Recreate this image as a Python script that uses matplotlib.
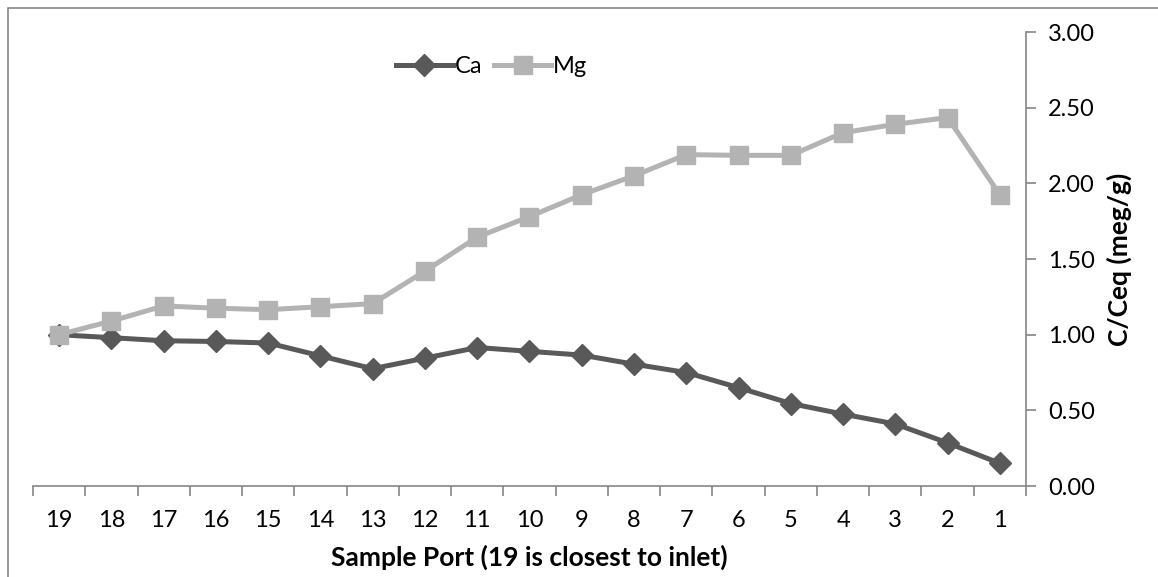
import numpy as np
import matplotlib.pyplot as plt

# Данные
ports = [19, 18, 17, 16, 15, 14, 13, 12, 11, 10, 9, 8, 7, 6, 5, 4, 3, 2, 1]
ca = [1.00, 0.98, 0.96, 0.955, 0.945, 0.86, 0.775, 0.845, 0.915, 0.89,
      0.865, 0.805, 0.75, 0.65, 0.545, 0.475, 0.41, 0.285, 0.15]
mg = [1.00, 1.09, 1.19, 1.175, 1.165, 1.185, 1.205, 1.42, 1.645, 1.78,
      1.925, 2.05, 2.19, 2.185, 2.185, 2.335, 2.39, 2.435, 1.925]
yticks = [0.0, 0.5, 1.0, 1.5, 2.0, 2.5, 3.0]

plt.rcParams['font.family'] = ['Lato', 'DejaVu Sans']
axis_col = '#868686'

fig = plt.figure(figsize=(11.58, 5.77), dpi=100)
ax = fig.add_axes([0.0285, 0.1577, 0.8575, 0.7868])

x = np.arange(len(ports))
ax.plot(x, ca, color='#595959', lw=3.6, marker='D', ms=11, label='Ca', zorder=3)
ax.plot(x, mg, color='#b3b3b3', lw=3.6, marker='s', ms=13.5, label='Mg', zorder=4)

ax.set_xlim(-0.5, len(ports) - 0.5)
ax.set_ylim(0, 3)
ax.set_xticks(x)
ax.set_xticklabels([str(p) for p in ports], fontsize=17)
ax.set_xticks(np.arange(-0.5, len(ports)), minor=True)
ax.tick_params(axis='x', which='major', length=0, pad=17)
ax.tick_params(axis='x', which='minor', length=7, color=axis_col, width=1.2)

ax.yaxis.tick_right()
ax.yaxis.set_label_position('right')
ax.set_yticks(yticks)
ax.set_yticklabels([f'{v:.2f}' for v in yticks], fontsize=17)
ax.tick_params(axis='y', length=7, color=axis_col, width=1.2, pad=9)

for s in ['top', 'left']:
    ax.spines[s].set_visible(False)
for s in ['bottom', 'right']:
    ax.spines[s].set_color(axis_col)
    ax.spines[s].set_linewidth(1.2)

ax.set_xlabel('Sample Port (19 is closest to inlet)', fontsize=19, fontweight='bold', labelpad=10)
ax.set_ylabel('C/Ceq (meg/g)', fontsize=19, fontweight='bold', labelpad=8)

ax.legend(loc='center', bbox_to_anchor=(0.462, 0.923), ncol=2, frameon=False,
          fontsize=17, handlelength=2.4, handletextpad=0.1, columnspacing=0.5)

# рамка вокруг графика
fig.patches.append(plt.Rectangle((0.007, -0.05), 1.1, 1.036, transform=fig.transFigure,
                                 fill=False, edgecolor=axis_col, lw=1.2))

fig.savefig('out.png', dpi=100)
